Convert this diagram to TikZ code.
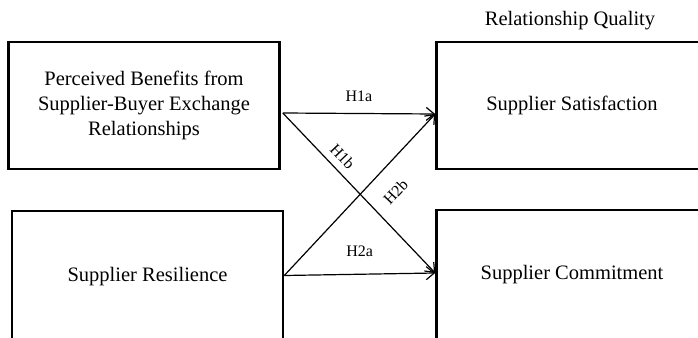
\documentclass[tikz,border=0pt]{standalone}
\usepackage{fontspec}
\setmainfont{Liberation Serif}
\usetikzlibrary{arrows.meta}
\begin{document}
\begin{tikzpicture}[x=1pt,y=-1pt,
  box/.style={draw, line width=2.6pt, inner sep=0pt, align=center,
    font=\fontsize{20.5}{25}\selectfont},
  link/.style={line width=1.2pt, -{Straight Barb[length=8pt,width=13pt,line width=1.2pt]}},
  hlab/.style={font=\fontsize{16}{18}\selectfont, inner sep=0pt},
  ttl/.style={font=\fontsize{20.5}{24}\selectfont, inner sep=0pt}]
\useasboundingbox (0,0) rectangle (698,337);
\begin{scope}
\clip (0,0) rectangle (698,337);
\node[box, minimum width=271pt, minimum height=127pt] (b1) at (144,105.5)
  {Perceived Benefits from\\Supplier-Buyer Exchange\\Relationships};
\node[box, minimum width=271pt, minimum height=132pt] (b2) at (147.5,277)
  {Supplier Resilience};
\node[box, minimum width=271pt, minimum height=127pt] (b3) at (572,105.5)
  {Supplier Satisfaction};
\node[box, minimum width=271pt, minimum height=130pt] (b4) at (572,275)
  {Supplier Commitment};
\end{scope}
\node[ttl] (rq) at (570,21) {Relationship Quality};
\coordinate (p1) at ([xshift=2pt,yshift=-7.5pt]b1.east);
\coordinate (p2) at ([yshift=1.5pt]b2.east);
\coordinate (q1) at ([yshift=-8.5pt]b3.west);
\coordinate (q2) at ([yshift=2pt]b4.west);
\draw[link] (p1) -- node[hlab, pos=0.5, above=11pt] (h1a) {H1a} (q1);
\draw[link] (p2) -- node[hlab, pos=0.5, above=17pt] (h2a) {H2a} (q2);
\draw[link] (p1) -- node[hlab, pos=0.33, sloped, above=7pt] (h1b) {H1b} (q2);
\draw[link] (p2) -- node[hlab, pos=0.62, sloped, below=18pt] (h2b) {H2b} (q1);
\end{tikzpicture}
\end{document}
